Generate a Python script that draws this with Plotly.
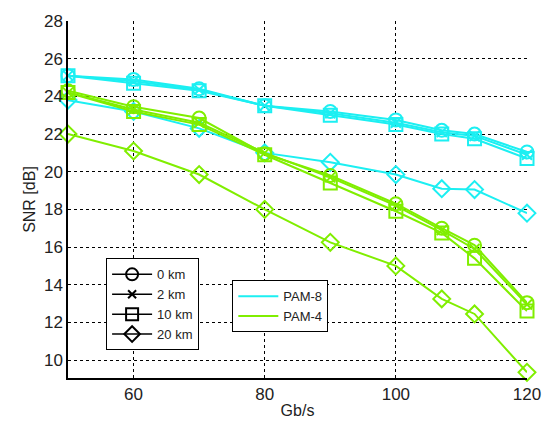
import plotly.graph_objects as go

rates = [50, 60, 70, 80, 90, 100, 107, 112, 120]
distances = ["0 km", "2 km", "10 km", "20 km"]
symbols = ["circle-open", "x-thin-open", "square-open", "diamond-open"]

pam8 = {
    "0 km":  [25.1, 24.9, 24.4, 23.5, 23.2, 22.75, 22.2, 22.0, 21.05],
    "2 km":  [25.1, 24.8, 24.35, 23.5, 23.1, 22.6, 22.1, 21.9, 20.9],
    "10 km": [25.1, 24.7, 24.3, 23.5, 23.0, 22.5, 22.0, 21.75, 20.7],
    "20 km": [23.8, 23.2, 22.3, 21.0, 20.5, 19.85, 19.1, 19.05, 17.8],
}
pam4 = {
    "0 km":  [24.3, 23.45, 22.85, 20.95, 19.8, 18.3, 17.0, 16.1, 13.05],
    "2 km":  [24.2, 23.3, 22.6, 21.0, 19.7, 18.2, 16.9, 15.9, 12.95],
    "10 km": [24.2, 23.2, 22.5, 20.9, 19.4, 17.9, 16.75, 15.4, 12.6],
    "20 km": [22.0, 21.1, 19.85, 18.0, 16.25, 15.0, 13.25, 12.45, 9.35],
}

CYAN = "#1CEFF2"
GREEN = "#80EE00"

fig = go.Figure()

for series, color in [(pam8, CYAN), (pam4, GREEN)]:
    for d, sym in zip(distances, symbols):
        fig.add_trace(go.Scatter(
            x=rates, y=series[d], mode="lines+markers",
            line=dict(color=color, width=2),
            marker=dict(symbol=sym, size=13 if sym != "x-thin-open" else 10,
                        color=color, line=dict(color=color, width=2)),
            showlegend=False, hoverinfo="x+y", cliponaxis=False,
        ))

# Legend 1: distances (black)
for d, sym in zip(distances, symbols):
    fig.add_trace(go.Scatter(
        x=[None], y=[None], mode="lines+markers", name=d,
        line=dict(color="black", width=1.5),
        marker=dict(symbol=sym, size=12 if sym != "x-thin-open" else 8,
                    color="black", line=dict(color="black", width=2)),
        legend="legend",
    ))

# Legend 2: modulation formats
for name, color in [("PAM-8", CYAN), ("PAM-4", GREEN)]:
    fig.add_trace(go.Scatter(
        x=[None], y=[None], mode="lines", name=name,
        line=dict(color=color, width=2), legend="legend2",
    ))

fig.update_layout(
    width=553, height=429,
    margin=dict(l=68, r=16, t=15, b=46),
    paper_bgcolor="white", plot_bgcolor="white",
    font=dict(family="Liberation Sans, Arial, sans-serif", size=15, color="#222222"),
    xaxis=dict(
        range=[50, 120], tickvals=[60, 80, 100, 120],
        showgrid=True, gridcolor="black", griddash="3px,3px", gridwidth=1,
        showline=True, linecolor="black", linewidth=1.5, zeroline=False,
        ticks="", title=dict(text="Gb/s", standoff=2, font=dict(size=16)),
        tickfont=dict(size=17),
    ),
    yaxis=dict(
        range=[9.05, 28], tickvals=[10, 12, 14, 16, 18, 20, 22, 24, 26, 28],
        showgrid=True, gridcolor="black", griddash="3px,3px", gridwidth=1,
        showline=True, linecolor="black", linewidth=1.5, zeroline=False,
        ticks="", title=dict(text="SNR [dB]", standoff=4, font=dict(size=16)),
        tickfont=dict(size=17),
    ),
    legend=dict(
        x=0.083, y=0.335, xanchor="left", yanchor="top",
        bgcolor="white", bordercolor="black", borderwidth=1,
        font=dict(size=13), tracegroupgap=0, itemwidth=40,
    ),
    legend2=dict(
        x=0.358, y=0.274, xanchor="left", yanchor="top",
        bgcolor="white", bordercolor="black", borderwidth=1,
        font=dict(size=13), tracegroupgap=0, itemwidth=40,
    ),
)

fig.write_html("out.html")
